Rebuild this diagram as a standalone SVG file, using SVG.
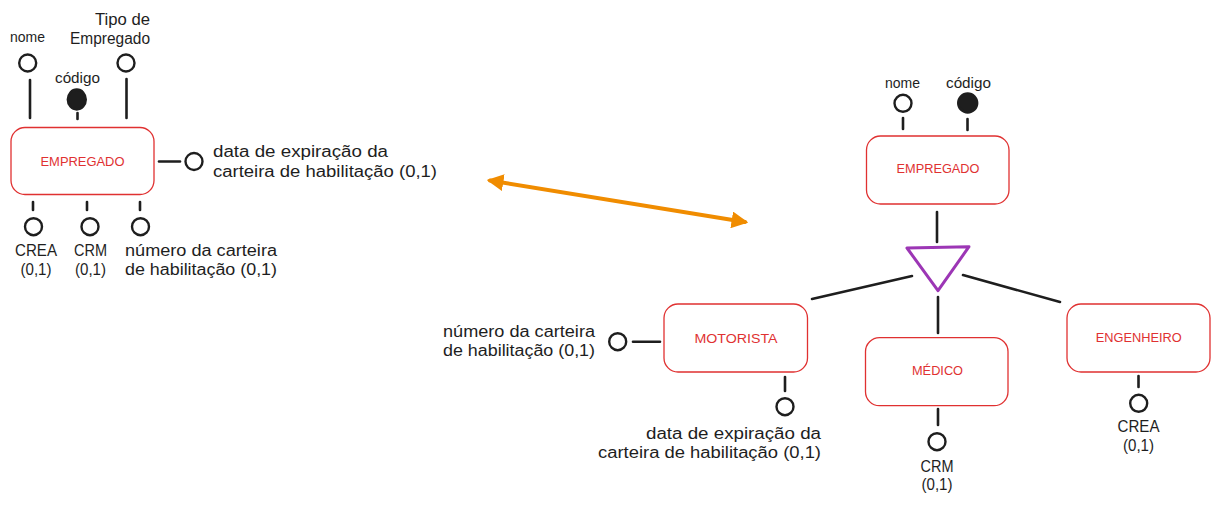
<svg xmlns="http://www.w3.org/2000/svg" width="1219" height="507" viewBox="0 0 1219 507">
<style>
  .ent rect { fill: none; stroke: #e03131; stroke-width: 1.3; }
  .ent text { font-family: "Liberation Sans", Arial, sans-serif; font-size: 12px; fill: #e03131; text-anchor: middle; }
  .attr circle, .attr ellipse { fill: none; stroke: #1e1e1e; stroke-width: 2.4; }
  .attr .key { fill: #1e1e1e; }
  .attr text { font-family: "Liberation Sans", Arial, sans-serif; font-size: 16px; fill: #1e1e1e; }
  .attr text.s { font-size: 14px; }
  .attr text.m { text-anchor: middle; }
  .con line { stroke: #1e1e1e; stroke-width: 2.6; stroke-linecap: round; }
  .con .arrow { stroke: #f08c00; stroke-width: 4; }
  .isa { fill: none; stroke: #9c36b5; stroke-width: 3; stroke-linejoin: round; }
</style>
<defs>
  <marker id="ah" viewBox="0 0 10 10" refX="8" refY="5" markerWidth="4.2" markerHeight="4.2" orient="auto-start-reverse" markerUnits="strokeWidth">
    <path d="M0,0 L10,5 L0,10 Z" fill="#f08c00"/>
  </marker>
</defs>

<!-- connectors -->
<g id="connectors" class="con">
  <!-- left EMPREGADO attributes -->
  <line x1="30" y1="80" x2="30" y2="118"/>
  <line x1="77.5" y1="113" x2="77.5" y2="119"/>
  <line x1="126.5" y1="79" x2="126.5" y2="118"/>
  <line x1="159" y1="161.5" x2="180" y2="161.5"/>
  <line x1="33" y1="202" x2="33" y2="210"/>
  <line x1="87" y1="202" x2="87" y2="210"/>
  <line x1="140" y1="202" x2="140" y2="210"/>
  <!-- orange double arrow -->
  <line class="arrow" x1="490" y1="180.5" x2="745" y2="222" marker-start="url(#ah)" marker-end="url(#ah)"/>
  <!-- right EMPREGADO attributes -->
  <line x1="903" y1="118" x2="903" y2="129"/>
  <line x1="967.5" y1="119" x2="967.5" y2="130"/>
  <!-- specialization -->
  <line x1="937" y1="212" x2="937" y2="242"/>
  <line x1="812" y1="299" x2="912" y2="276"/>
  <line x1="938" y1="297" x2="938" y2="333"/>
  <line x1="963" y1="275" x2="1060" y2="302"/>
  <!-- MOTORISTA attributes -->
  <line x1="633" y1="341.7" x2="660" y2="341.7"/>
  <line x1="785" y1="377" x2="785" y2="391"/>
  <!-- MÉDICO attribute -->
  <line x1="938" y1="409" x2="938" y2="425"/>
  <!-- ENGENHEIRO attribute -->
  <line x1="1138.5" y1="376" x2="1138.5" y2="387"/>
</g>

<!-- left diagram -->
<g id="empregado-left" class="ent">
  <rect x="11" y="127.5" width="143" height="67" rx="14"/>
  <text x="82.5" y="165.5" textLength="84" lengthAdjust="spacingAndGlyphs">EMPREGADO</text>
</g>
<g id="attr-left-nome" class="attr">
  <circle cx="27.7" cy="63" r="8.5"/>
  <text class="s" x="10" y="42" textLength="35" lengthAdjust="spacingAndGlyphs">nome</text>
</g>
<g id="attr-left-codigo" class="attr">
  <ellipse class="key" cx="76.8" cy="99.5" rx="9" ry="10"/>
  <text class="s" x="55" y="83" textLength="45" lengthAdjust="spacingAndGlyphs">código</text>
</g>
<g id="attr-left-tipo" class="attr">
  <circle cx="126" cy="63" r="8.5"/>
  <text x="95" y="25" textLength="55" lengthAdjust="spacingAndGlyphs">Tipo de</text>
  <text x="70" y="44" textLength="80" lengthAdjust="spacingAndGlyphs">Empregado</text>
</g>
<g id="attr-left-data" class="attr">
  <circle cx="194" cy="161.5" r="8.5"/>
  <text x="213" y="157" textLength="175" lengthAdjust="spacingAndGlyphs">data de expiração da</text>
  <text x="213" y="177" textLength="224" lengthAdjust="spacingAndGlyphs">carteira de habilitação (0,1)</text>
</g>
<g id="attr-left-crea" class="attr">
  <circle cx="33.5" cy="226.7" r="8.5"/>
  <text class="m" x="36" y="255.5" textLength="42" lengthAdjust="spacingAndGlyphs">CREA</text>
  <text class="m" x="36" y="275" textLength="31" lengthAdjust="spacingAndGlyphs">(0,1)</text>
</g>
<g id="attr-left-crm" class="attr">
  <circle cx="90" cy="226.7" r="8.5"/>
  <text class="m" x="90.5" y="255.5" textLength="33" lengthAdjust="spacingAndGlyphs">CRM</text>
  <text class="m" x="90.5" y="275" textLength="31" lengthAdjust="spacingAndGlyphs">(0,1)</text>
</g>
<g id="attr-left-numero" class="attr">
  <circle cx="140.5" cy="226.7" r="8.5"/>
  <text x="125" y="255.5" textLength="152" lengthAdjust="spacingAndGlyphs">número da carteira</text>
  <text x="125" y="275" textLength="152" lengthAdjust="spacingAndGlyphs">de habilitação (0,1)</text>
</g>

<!-- right diagram -->
<g id="empregado-right" class="ent">
  <rect x="866.5" y="136" width="142.5" height="68" rx="14"/>
  <text x="938" y="173" textLength="83" lengthAdjust="spacingAndGlyphs">EMPREGADO</text>
</g>
<g id="attr-right-nome" class="attr">
  <circle cx="903" cy="103.3" r="8.5"/>
  <text class="s" x="885" y="88" textLength="35" lengthAdjust="spacingAndGlyphs">nome</text>
</g>
<g id="attr-right-codigo" class="attr">
  <circle class="key" cx="967.7" cy="103" r="9.5"/>
  <text class="s" x="946" y="88" textLength="45" lengthAdjust="spacingAndGlyphs">código</text>
</g>
<g id="especializacao">
  <polygon class="isa" points="907,248 969,246.7 938,290.7"/>
</g>
<g id="motorista" class="ent">
  <rect x="664" y="304" width="143.5" height="68" rx="14"/>
  <text x="736" y="342.5" textLength="83" lengthAdjust="spacingAndGlyphs">MOTORISTA</text>
</g>
<g id="medico" class="ent">
  <rect x="865.5" y="337.7" width="142.5" height="68" rx="14"/>
  <text x="937.5" y="375" textLength="51" lengthAdjust="spacingAndGlyphs">MÉDICO</text>
</g>
<g id="engenheiro" class="ent">
  <rect x="1067" y="304" width="143" height="68" rx="14"/>
  <text x="1138.7" y="342" textLength="86" lengthAdjust="spacingAndGlyphs">ENGENHEIRO</text>
</g>
<g id="attr-motorista-numero" class="attr">
  <circle cx="617.7" cy="341.7" r="8.5"/>
  <text x="443" y="336.5" textLength="152" lengthAdjust="spacingAndGlyphs">número da carteira</text>
  <text x="443" y="355.5" textLength="152" lengthAdjust="spacingAndGlyphs">de habilitação (0,1)</text>
</g>
<g id="attr-motorista-data" class="attr">
  <circle cx="785" cy="406.7" r="8.5"/>
  <text x="646" y="439" textLength="175" lengthAdjust="spacingAndGlyphs">data de expiração da</text>
  <text x="598" y="457.5" textLength="223" lengthAdjust="spacingAndGlyphs">carteira de habilitação (0,1)</text>
</g>
<g id="attr-medico-crm" class="attr">
  <circle cx="937" cy="441.7" r="8.5"/>
  <text class="m" x="937" y="471.5" textLength="33" lengthAdjust="spacingAndGlyphs">CRM</text>
  <text class="m" x="937" y="490" textLength="31" lengthAdjust="spacingAndGlyphs">(0,1)</text>
</g>
<g id="attr-engenheiro-crea" class="attr">
  <circle cx="1138.7" cy="403.3" r="8.5"/>
  <text class="m" x="1138.5" y="431.5" textLength="42" lengthAdjust="spacingAndGlyphs">CREA</text>
  <text class="m" x="1138.5" y="451" textLength="31" lengthAdjust="spacingAndGlyphs">(0,1)</text>
</g>
</svg>
